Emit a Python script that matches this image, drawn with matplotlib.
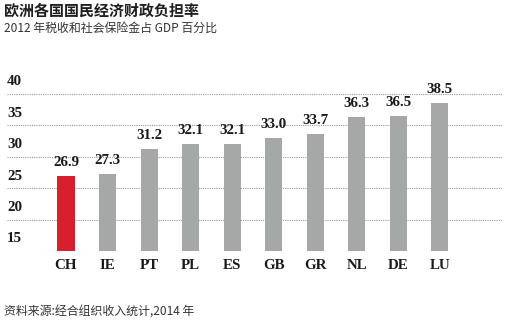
import matplotlib
matplotlib.use("Agg")
import matplotlib.pyplot as plt

plt.rcParams['font.family'] = ['Noto Sans CJK SC', 'DejaVu Sans']

countries = ["CH", "IE", "PT", "PL", "ES", "GB", "GR", "NL", "DE", "LU"]
values = [26.9, 27.3, 31.2, 32.1, 32.1, 33.0, 33.7, 36.3, 36.5, 38.5]
yticks = [15, 20, 25, 30, 35, 40]
highlight = "CH"

title = "欧洲各国国民经济财政负担率"
subtitle = "2012 年税收和社会保险金占 GDP 百分比"
source = "资料来源:经合组织收入统计,2014 年"

RED = "#d91f2d"
GREY = "#a6a8a8"
TEXT = "#1a1a1a"
SERIF = ["Liberation Serif", "DejaVu Serif"]
LABEL_SIZE = 10.8

W, H = 509, 323
fig = plt.figure(figsize=(W / 100, H / 100), dpi=100)

left_px, right_px = 7, 503
base_px, top_px = 251, 87.7
ax = fig.add_axes([left_px / W, (H - base_px) / H,
                   (right_px - left_px) / W, (base_px - top_px) / H])
ax.set_ylim(15, 41)
ax.set_xlim(-1.42, 10.52)
ax.axis("off")

for t in yticks:
    ax.axhline(t, color="#9a9a9a", lw=0.8, ls=(0, (1, 1)), zorder=1)
    ax.annotate(str(t), xy=(0, t), xycoords=("axes fraction", "data"),
                xytext=(0, 4), textcoords="offset points",
                ha="left", va="bottom", fontsize=LABEL_SIZE, fontweight="bold",
                family=SERIF, color=TEXT)

xs = list(range(len(countries)))
colors = [RED if c == highlight else GREY for c in countries]
ax.bar(xs, [v - 15 for v in values], bottom=15, width=0.41,
       color=colors, zorder=2)

for x, v, c in zip(xs, values, countries):
    ax.annotate(f"{v:.1f}", xy=(x, v), xytext=(0, 5),
                textcoords="offset points", ha="center", va="bottom",
                fontsize=LABEL_SIZE, fontweight="bold", family=SERIF, color=TEXT)
    ax.annotate(c, xy=(x, 15), xytext=(0, -5.5), textcoords="offset points",
                ha="center", va="top", fontsize=LABEL_SIZE, fontweight="bold",
                family=SERIF, color=TEXT)

fig.text(4 / W, 1 - 11 / H, title, ha="left", va="center",
         fontsize=10.8, fontweight="heavy", color="#1e1e1e")
fig.text(4 / W, 1 - 28 / H, subtitle, ha="left", va="center",
         fontsize=8.6, color="#333333")
fig.text(4 / W, 1 - 312 / H, source, ha="left", va="center",
         fontsize=8.6, color="#333333")

fig.savefig("out.png", dpi=100)
